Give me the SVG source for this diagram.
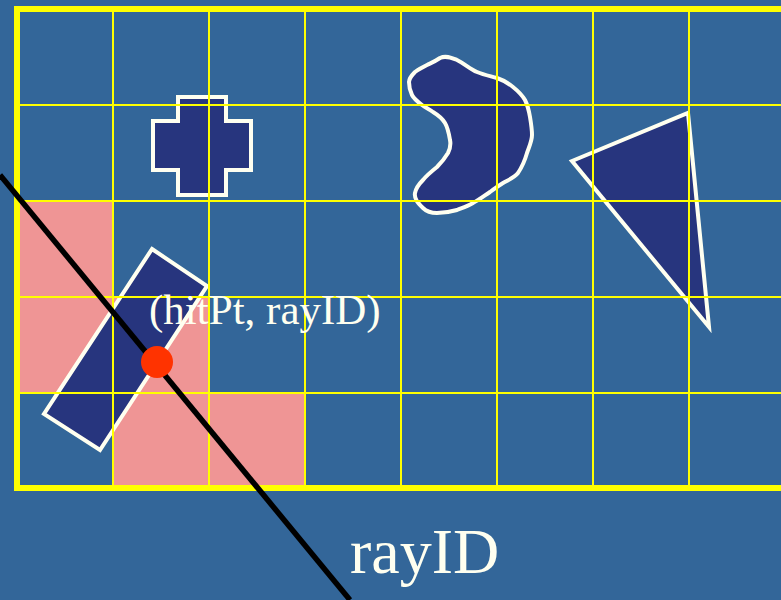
<svg xmlns="http://www.w3.org/2000/svg" width="781" height="600" viewBox="0 0 781 600">
<style>
.cell{fill:#EF9595}
.grid{stroke:#FFFF00;stroke-width:2;fill:none}
.shape{fill:#27357E;stroke:#FFFFF0;stroke-width:4;stroke-linejoin:miter}
.lbl{font-family:"Liberation Serif","Times New Roman",serif;fill:#FFFFF0}
</style>
<rect x="0" y="0" width="781" height="600" fill="#336699"/>
<g id="cells">
<rect class="cell" x="17" y="201" width="96" height="96"/>
<rect class="cell" x="17" y="297" width="96" height="96"/>
<rect class="cell" x="113" y="297" width="96" height="96"/>
<rect class="cell" x="113" y="393" width="96" height="96"/>
<rect class="cell" x="209" y="393" width="96" height="96"/>
</g>
<g id="cross">
<path class="shape" d="M178,97 H226 V121 H251 V170 H226 V195 H178 V170 H153 V121 H178 Z"/>
</g>
<g id="blob">
<path class="shape" d="M440,58 C446,55 452,58 457,60 C465,64 470,69 477,72 C484,75 490,76 497,78 C503,80 508,83 513,87 C518,91 522,95 525,100 C528,106 529,111 530,117 C531,123 532,129 532,135 C532,141 529,147 527,153 C525,160 522,167 518,173 C514,178 508,180 503,183 C498,186 494,189 490,192 C484,196 479,200 473,203 C468,206 462,208 457,210 C450,212 444,213 437,213 C431,213 426,211 423,208 C418,203 414,199 415,193 C416,188 419,184 423,180 C427,175 432,171 437,167 C441,163 445,158 448,153 C450,149 451,145 450,140 C449,134 448,128 445,123 C442,118 438,115 433,112 C429,109 426,108 422,105 C418,102 414,99 412,95 C410,91 409,86 409,82 C409,78 412,75 415,72 C419,69 423,67 427,65 C431,63 434,62 440,58 Z"/>
</g>
<g id="triangle">
<path class="shape" d="M572,161 L688,113 L709,327 Z"/>
</g>
<g id="box">
<path class="shape" d="M152,249 L207,286 L100,450 L44,414 Z"/>
</g>
<g id="gridlines">
<path class="grid" d="M113,9 V489 M209,9 V489 M305,9 V489 M401,9 V489 M497,9 V489 M593,9 V489 M689,9 V489 M17,105 H785 M17,201 H785 M17,297 H785 M17,393 H785"/>
<rect x="17" y="9" width="770" height="479" fill="none" stroke="#FFFF00" stroke-width="6"/>
</g>
<g id="connectors">
<line x1="0" y1="175" x2="350" y2="600" stroke="#000000" stroke-width="5.5"/>
</g>
<g id="hit">
<circle cx="157" cy="362" r="16" fill="#FF3300"/>
</g>
<g id="labels">
<text class="lbl" x="149" y="324" font-size="43">(hitPt, rayID)</text>
<text class="lbl" x="350" y="573" font-size="64">rayID</text>
</g>
</svg>
